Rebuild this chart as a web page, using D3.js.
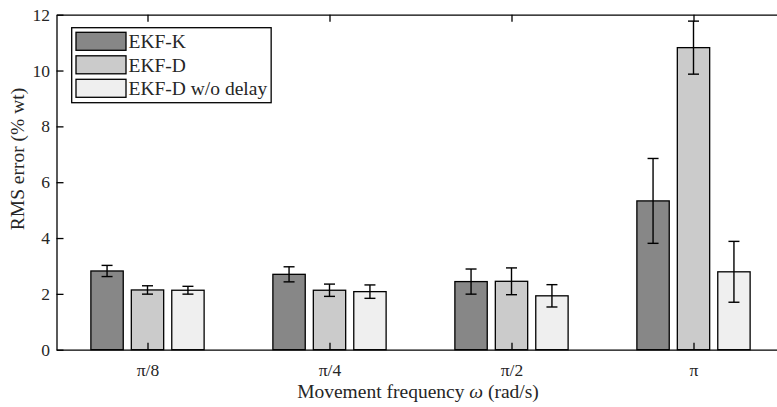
<!DOCTYPE html>
<meta charset="utf-8">
<style>
  body { margin: 0; background: #ffffff; }
  text { font-family: "Liberation Serif", "DejaVu Serif", serif; fill: #262626; }
</style>

<!-- Load d3.js -->
<script src="https://cdn.jsdelivr.net/npm/d3@7"></script>

<!-- Create a div where the graph will take place -->
<div id="my_dataviz"></div>

<script>

// data
var freqs = ["π/8", "π/4", "π/2", "π"]
var series = ["EKF-K", "EKF-D", "EKF-D w/o delay"]
var ekfK      = [2.82, 2.70, 2.44, 5.33]
var ekfKErr   = [0.20, 0.27, 0.45, 1.52]
var ekfD      = [2.14, 2.13, 2.45, 10.82]
var ekfDErr   = [0.15, 0.22, 0.48, 0.95]
var noDelay   = [2.13, 2.08, 1.93, 2.79]
var noDelayErr= [0.14, 0.24, 0.40, 1.09]
var yTicks = [0, 2, 4, 6, 8, 10, 12]

var colors = ["#878787", "#cbcbcb", "#efefef"]

// plot box
var W = 777, H = 407
var pLeft = 56.5, pRight = 784.5, pTop = 14.7, pBottom = 349.7

var svg = d3.select("#my_dataviz")
  .append("svg")
    .attr("width", W)
    .attr("height", H)
    .style("background-color", "#ffffff")

// x: category index 1..4 (matlab style), y: RMS error
var x = d3.scaleLinear().domain([0.5, 4.5]).range([pLeft, pRight])
var y = d3.scaleLinear().domain([0, 12]).range([pBottom, pTop])

// build rows from the arrays
var vals = [ekfK, ekfD, noDelay]
var errs = [ekfKErr, ekfDErr, noDelayErr]
var rows = []
freqs.forEach(function(f, i) {
  series.forEach(function(s, j) {
    rows.push({ cat: i + 1, s: j, v: vals[j][i], e: errs[j][i] })
  })
})

var groupW = 2 / 3          // width of a group of 3 bars
var step = groupW / 3       // distance between bar centres
var barW = step * 0.8

// bars
svg.append("g")
  .selectAll("rect")
  .data(rows)
  .enter()
  .append("rect")
    .attr("x", function(d) { return x(d.cat + (d.s - 1) * step - barW / 2) })
    .attr("width", function(d) { return x(barW) - x(0) })
    .attr("y", function(d) { return y(d.v) })
    .attr("height", function(d) { return y(0) - y(d.v) })
    .style("fill", function(d) { return colors[d.s] })
    .style("stroke", "#000")
    .style("stroke-width", 1.3)

// error bars
var eb = svg.append("g").selectAll("g")
  .data(rows)
  .enter()
  .append("g")
    .style("stroke", "#000")
    .style("stroke-width", 1.4)
eb.append("line")
  .attr("x1", function(d) { return x(d.cat + (d.s - 1) * step) })
  .attr("x2", function(d) { return x(d.cat + (d.s - 1) * step) })
  .attr("y1", function(d) { return y(d.v - d.e) })
  .attr("y2", function(d) { return y(d.v + d.e) })
eb.selectAll(".cap")
  .data(function(d) { return [d.v - d.e, d.v + d.e].map(function(v) { return { c: d.cat + (d.s - 1) * step, v: v } }) })
  .enter()
  .append("line")
    .attr("x1", function(d) { return x(d.c) - 5.5 })
    .attr("x2", function(d) { return x(d.c) + 5.5 })
    .attr("y1", function(d) { return y(d.v) })
    .attr("y2", function(d) { return y(d.v) })

// axes, inward ticks, box
var tl = 7
var ax = svg.append("g")

var yAx = ax.append("g")
  .attr("transform", "translate(" + pLeft + ",0)")
  .call(d3.axisLeft(y).tickValues(yTicks).tickSizeInner(-tl).tickSizeOuter(0).tickPadding(6.5))
var yAxR = ax.append("g")
  .attr("transform", "translate(" + pRight + ",0)")
  .call(d3.axisRight(y).tickValues(yTicks).tickSizeInner(-tl).tickSizeOuter(0).tickFormat(""))
var xAx = ax.append("g")
  .attr("transform", "translate(0," + pBottom + ")")
  .call(d3.axisBottom(x).tickValues([1, 2, 3, 4]).tickSizeInner(-tl).tickSizeOuter(0)
    .tickFormat(function(d) { return freqs[d - 1] }).tickPadding(14))
var xAxT = ax.append("g")
  .attr("transform", "translate(0," + pTop + ")")
  .call(d3.axisTop(x).tickValues([1, 2, 3, 4]).tickSizeInner(-tl).tickSizeOuter(0).tickFormat(""))

ax.selectAll("g").attr("font-size", 17.5).attr("font-family", "Liberation Serif")
ax.selectAll(".domain").attr("stroke", "#000").attr("stroke-width", 1.3)
ax.selectAll(".tick line").attr("stroke", "#000").attr("stroke-width", 1.3)
ax.selectAll(".tick text").attr("fill", "#262626")

// axis labels
var xl = svg.append("text")
  .attr("text-anchor", "middle")
  .attr("x", 418)
  .attr("y", 398)
  .style("font-size", "19.5px")
xl.append("tspan").text("Movement frequency ")
xl.append("tspan").style("font-style", "italic").text("ω")
xl.append("tspan").text(" (rad/s)")

svg.append("text")
  .attr("text-anchor", "middle")
  .attr("transform", "translate(23.5,159) rotate(-90)")
  .style("font-size", "19.5px")
  .text("RMS error (% wt)")

// legend
var lg = svg.append("g")
var lgBox = lg.append("rect")
  .attr("x", 71.7).attr("y", 27.7)
  .attr("height", 75)
  .style("fill", "#fff")
  .style("stroke", "#000")
  .style("stroke-width", 1.3)
var maxW = 0
series.forEach(function(s, j) {
  var yy = 32.3 + j * 23.5
  lg.append("rect")
    .attr("x", 76).attr("y", yy)
    .attr("width", 50).attr("height", 18)
    .style("fill", colors[j])
    .style("stroke", "#000")
    .style("stroke-width", 1.3)
  var t = lg.append("text")
    .attr("x", 128.5).attr("y", yy + 16)
    .style("font-size", "19.5px")
    .text(s)
  maxW = Math.max(maxW, t.node().getComputedTextLength())
})
lgBox.attr("width", 128.5 + maxW + 4 - 71.7)

</script>
